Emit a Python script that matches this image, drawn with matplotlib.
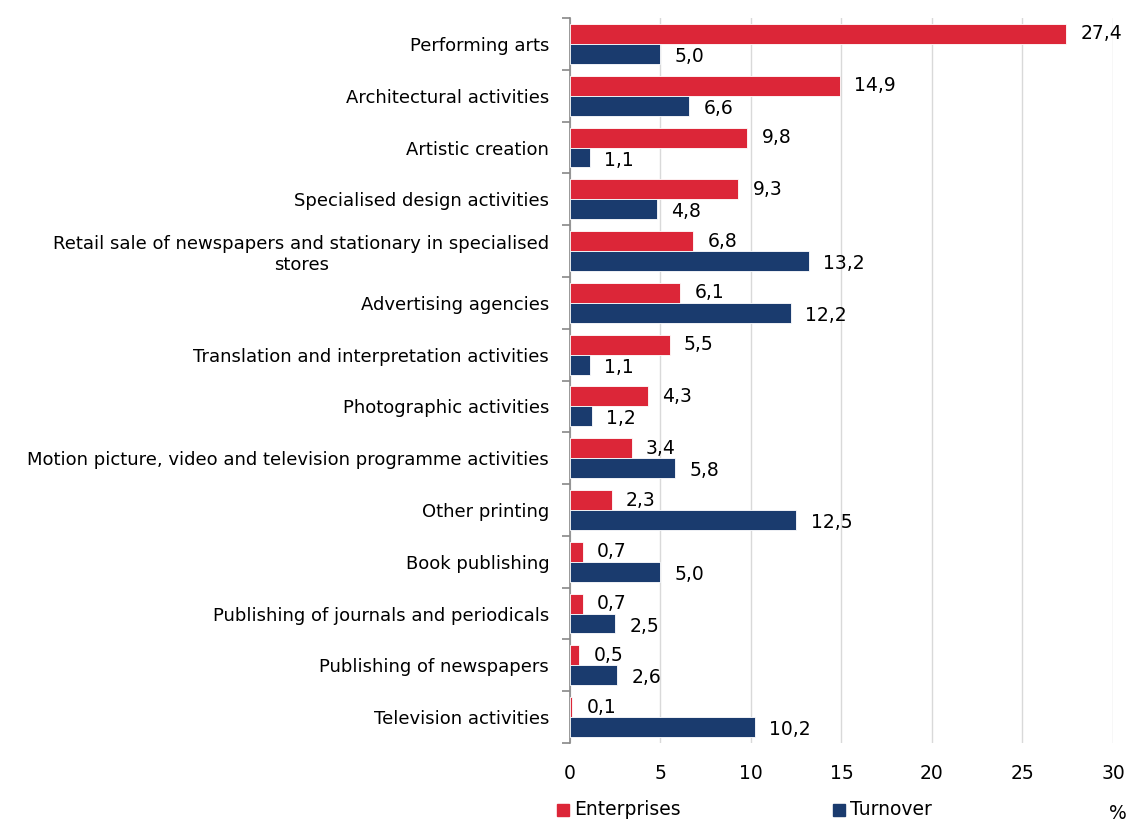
import numpy as np
from matplotlib import pyplot as plt
from matplotlib.patches import Rectangle

categories = [
    'Performing arts',
    'Architectural activities',
    'Artistic creation',
    'Specialised design activities',
    'Retail sale of newspapers and stationary in specialised\nstores',
    'Advertising agencies',
    'Translation and interpretation activities',
    'Photographic activities',
    'Motion picture, video and television programme activities',
    'Other printing',
    'Book publishing',
    'Publishing of journals and periodicals',
    'Publishing of newspapers',
    'Television activities',
]
enterprises = [27.4, 14.9, 9.8, 9.3, 6.8, 6.1, 5.5, 4.3, 3.4, 2.3, 0.7, 0.7, 0.5, 0.1]
turnover = [5.0, 6.6, 1.1, 4.8, 13.2, 12.2, 1.1, 1.2, 5.8, 12.5, 5.0, 2.5, 2.6, 10.2]
xticks = [0, 5, 10, 15, 20, 25, 30]

RED = '#dc2638'
BLUE = '#1a3b6e'

plt.rcParams['font.family'] = ['DejaVu Sans']
plt.rcParams['font.size'] = 13

fig = plt.figure(figsize=(11.28, 8.21), dpi=100)
ax = fig.add_axes([0.5053, 0.095, 0.4814, 0.883])

n = len(categories)
y = np.arange(n)
h = 0.385
ax.barh(y - h / 2, enterprises, height=h, color=RED, edgecolor='white', linewidth=0.6, zorder=3)
ax.barh(y + h / 2, turnover, height=h, color=BLUE, edgecolor='white', linewidth=0.6, zorder=3)

for i in range(n):
    ax.text(enterprises[i] + 0.8, y[i] - h / 2, f'{enterprises[i]:.1f}'.replace('.', ','),
            va='center', ha='left', fontsize=13.5, zorder=4)
    ax.text(turnover[i] + 0.8, y[i] + h / 2 + 0.05, f'{turnover[i]:.1f}'.replace('.', ','),
            va='center', ha='left', fontsize=13.5, zorder=4)

ax.set_ylim(n - 0.5, -0.5)
ax.set_xlim(0, 30)
ax.set_yticks(y)
ax.set_yticklabels(categories, fontsize=13, ha='right', multialignment='center')
ax.tick_params(axis='y', length=0, pad=15)
ax.set_yticks(np.arange(-0.5, n, 1.0), minor=True)
ax.tick_params(axis='y', which='minor', length=6, color='#888888', width=1.2)

ax.set_xticks(xticks)
ax.set_xticklabels([str(t) for t in xticks], fontsize=13.5)
ax.tick_params(axis='x', length=0, pad=15)
ax.grid(axis='x', color='#d9d9d9', linewidth=1, zorder=0)
for s in ['top', 'right', 'bottom']:
    ax.spines[s].set_visible(False)
ax.spines['left'].set_color('#888888')
ax.spines['left'].set_linewidth(1.2)

# legend along the bottom
W, H = 1128.0, 821.0
fig.patches.append(Rectangle((557 / W, 1 - 816 / H), 12 / W, 12 / H, color=RED, transform=fig.transFigure))
fig.text(574 / W, 1 - 809 / H, 'Enterprises', fontsize=13.5, va='center')
fig.patches.append(Rectangle((833 / W, 1 - 816 / H), 12 / W, 12 / H, color=BLUE, transform=fig.transFigure))
fig.text(850 / W, 1 - 809 / H, 'Turnover', fontsize=13.5, va='center')
fig.text(1109 / W, 1 - 813 / H, '%', fontsize=13.5, va='center', ha='left')

fig.savefig('out.png', dpi=100)
